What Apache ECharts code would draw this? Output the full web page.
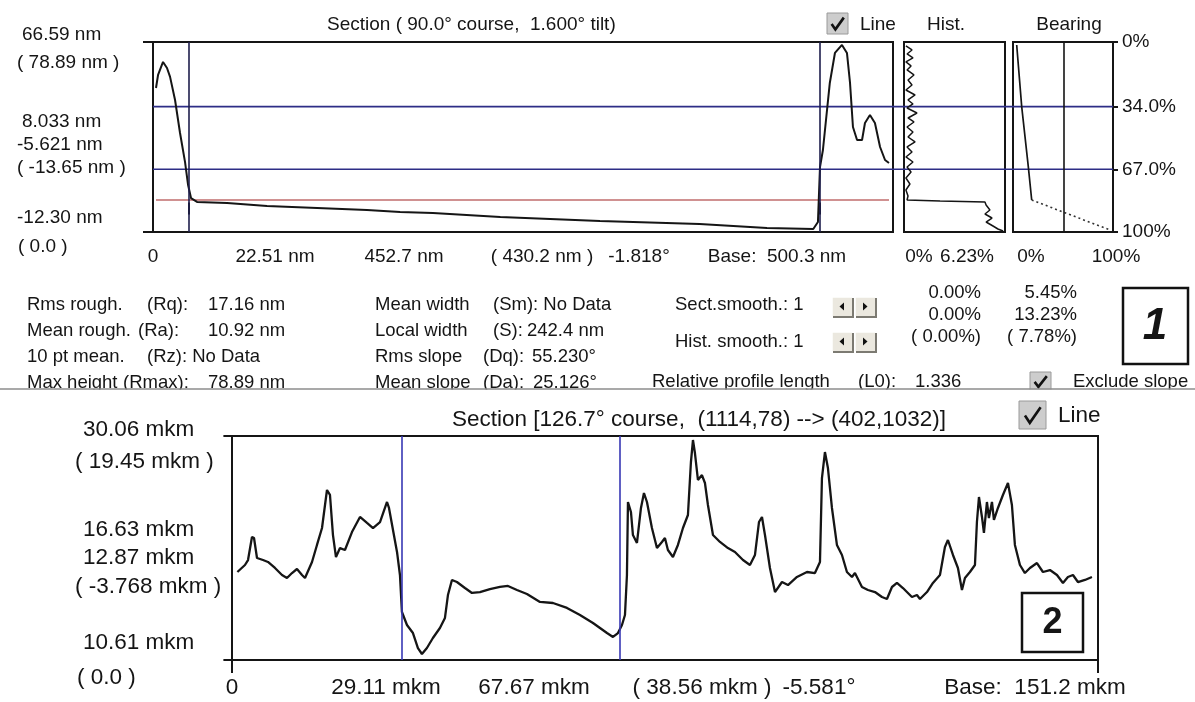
<!DOCTYPE html>
<html>
<head>
<meta charset="utf-8">
<script src="https://cdn.jsdelivr.net/npm/echarts@6/dist/echarts.min.js"></script>
<style>
  html, body { margin: 0; padding: 0; background: #fff; }
  #chart { width: 1195px; height: 702px; }
</style>
</head>
<body>
<div id="chart"></div>
<script>
// ---------- Section 1: profile across the step (nm) ----------
const sec1Dist = [0, 1.4, 4.8, 7.5, 9.6, 13.0, 16.4, 19.8, 21.9, 23.9, 28.0, 48.5, 75.8, 110.0, 144.0,
  166.6, 189.0, 235.0, 303.0, 371.0, 417.0, 448.6, 451.8, 453.2, 455.2, 459.9, 463.4, 468.2, 471.6,
  473.7, 475.7, 478.5, 481.9, 483.9, 487.3, 490.7, 494.2, 497.6, 500.3];
const sec1Height = [47.5, 52.9, 58.3, 55.8, 52.1, 42.5, 28.8, 16.8, 7.2, 1.8, 0.2, -0.3, -1.5, -2.3, -3.2,
  -4.0, -4.4, -6.1, -7.7, -9.0, -10.6, -11.05, -8.15, 14.7, 21.75, 49.58, 62.04, 65.36, 62.04,
  49.58, 31.3, 25.9, 25.9, 32.97, 36.29, 32.97, 23.0, 17.6, 16.35];
const sec1Range = [-12.30, 66.59];      // nm, bottom / top of the height scale
const sec1Span = [0, 500.3];            // nm, profile base
const sec1Cursors = [22.51, 452.7];     // nm
const sec1RefLevel = 1.0;               // nm, reference (red) line

// histogram of heights: share of points (%) vs height (nm)
const histPct = [0.12, 0.50, 0.19, 0.56, 0.12, 0.44, 0.19, 0.62, 0.25, 0.50, 0.12, 0.69, 0.25, 0.56, 0.19,
  0.81, 0.25, 0.62, 0.19, 0.56, 0.25, 0.69, 0.19, 0.50, 0.12, 0.56, 0.19, 0.44, 0.12, 0.37, 0.12, 0.25,
  0.19, 2.25, 5.05, 5.12, 5.36, 5.05, 5.49, 5.12, 5.55, 5.86, 6.18];
const histHeight = [64.94, 63.28, 61.62, 59.96, 58.30, 56.64, 54.98, 52.90, 50.82, 48.75, 46.67, 44.59,
  42.52, 40.86, 39.20, 37.12, 35.04, 33.38, 31.30, 29.23, 27.15, 25.08, 23.00, 20.92, 18.85, 16.77, 14.69,
  12.62, 10.13, 7.63, 5.14, 2.65, 0.99, 0.57, 0.16, -1.09, -3.16, -4.82, -6.49, -8.15, -9.81, -11.05, -11.88];
const histMax = 6.3;

// bearing ratio curve: bearing (%) vs height (nm)
const bearingPct = [3.7, 8.7, 15.3, 18.7];
const bearingHeight = [65.36, 39.73, 14.82, 1.0];
const bearingTailPct = [18.7, 97.0];
const bearingTailHeight = [1.0, -11.47];
const bearingCursor = 51;
const bearingLevels = [34.0, 67.0];
const bearingTicks = [0, 34.0, 67.0, 100];

// ---------- Section 2: profile along the 126.7° course (mkm) ----------
const sec2Dist = [0.0, 1.34, 1.88, 2.58, 2.94, 3.47, 4.53, 5.41, 6.65, 7.89,
  8.77, 9.66, 10.54, 11.43, 11.96, 13.20, 14.08, 14.97, 15.50, 15.85,
  16.38, 16.91, 17.44, 18.15, 19.03, 20.27, 21.69, 22.93, 23.99, 25.23,
  26.47, 26.82, 28.24, 28.76, 29.11, 30.00, 31.06, 31.94, 32.65, 33.53,
  34.59, 35.83, 36.72, 37.25, 37.96, 38.84, 40.26, 41.50, 42.91, 44.68,
  46.45, 47.87, 49.46, 51.23, 53.53, 55.83, 58.31, 60.61, 62.91, 65.39,
  66.45, 67.33, 68.04, 68.57, 68.92, 69.10, 69.63, 69.98, 70.69, 71.40,
  71.93, 72.46, 73.34, 74.23, 75.11, 75.64, 76.17, 77.06, 77.94, 78.83,
  79.71, 80.24, 80.60, 80.95, 81.48, 82.19, 82.72, 83.25, 84.14, 85.38,
  86.79, 88.03, 89.45, 90.68, 91.57, 92.28, 92.81, 93.34, 94.22, 95.11,
  96.35, 97.41, 99.00, 100.77, 102.18, 103.07, 103.42, 103.95, 104.48, 105.19,
  106.07, 106.96, 107.84, 108.73, 109.26, 110.50, 111.56, 112.80, 114.04, 114.92,
  115.81, 116.69, 117.75, 119.34, 120.23, 120.76, 122.00, 123.06, 124.30, 125.18,
  125.71, 126.60, 127.48, 128.19, 128.72, 129.60, 130.49, 130.84, 131.20, 131.73,
  132.08, 132.61, 132.96, 133.50, 133.85, 134.56, 135.44, 136.33, 137.03, 137.56,
  138.45, 139.33, 140.22, 141.46, 142.52, 143.76, 145.00, 146.06, 146.94, 147.83,
  148.71, 149.95, 151.19];
const sec2Height = [18.25, 18.86, 19.29, 21.29, 21.20, 19.47, 19.29, 19.12, 18.60, 17.99,
  17.73, 18.16, 18.51, 17.99, 17.73, 19.12, 20.60, 22.07, 24.07, 25.37,
  24.94, 21.46, 19.55, 20.33, 20.16, 21.72, 23.03, 22.51, 22.07, 22.59,
  24.33, 23.81, 19.99, 17.99, 14.78, 13.65, 12.95, 11.65, 11.13, 11.65,
  12.52, 13.39, 14.26, 16.25, 17.56, 17.38, 16.86, 16.43, 16.51, 16.77,
  16.95, 17.04, 16.69, 16.34, 15.65, 15.56, 15.13, 14.52, 13.82, 12.95,
  12.61, 12.95, 13.65, 14.52, 17.99, 24.33, 23.46, 21.46, 20.77, 23.81,
  25.11, 24.33, 22.07, 20.33, 20.86, 21.20, 20.16, 19.55, 20.60, 22.07,
  23.20, 27.80, 29.71, 28.58, 26.24, 26.67, 25.98, 24.07, 21.46, 20.86,
  20.33, 19.99, 19.29, 18.86, 19.73, 22.59, 23.03, 21.46, 18.60, 16.51,
  17.38, 17.12, 17.82, 18.25, 18.16, 19.12, 26.41, 28.67, 27.28, 23.81,
  20.60, 19.73, 18.25, 17.82, 18.16, 16.95, 16.69, 16.51, 16.08, 15.91,
  16.95, 17.30, 16.86, 16.08, 16.25, 15.91, 16.51, 17.30, 17.99, 20.42,
  21.03, 19.73, 18.60, 16.69, 17.73, 18.25, 18.86, 22.59, 24.76, 23.03,
  21.64, 24.33, 22.94, 24.33, 22.77, 23.81, 24.94, 25.98, 24.07, 20.60,
  18.86, 18.16, 18.60, 19.03, 18.25, 18.42, 17.99, 17.30, 17.82, 17.99,
  17.38, 17.56, 17.82];
const sec2Range = [10.61, 30.06];       // mkm
const sec2Span = [0, 151.2];            // mkm
const sec2Cursors = [29.11, 67.67];     // mkm

// ---------- texts ----------
const sec1Title = 'Section ( 90.0° course,  1.600° tilt)';
const sec1SideLabels = ['66.59 nm', '( 78.89 nm )', '8.033 nm', '-5.621 nm', '( -13.65 nm )', '-12.30 nm', '( 0.0 )'];
const sec1AxisLabels = ['0', '22.51 nm', '452.7 nm', '( 430.2 nm )', '-1.818°', 'Base:  500.3 nm'];
const histAxisLabels = ['0%', '6.23%'];
const bearingAxisLabels = ['0%', '100%'];
const statsLeft = [['Rms rough.', '(Rq):', '17.16 nm'], ['Mean rough.', '(Ra):', '10.92 nm'],
  ['10 pt mean.', '(Rz): No Data', ''], ['Max height', '(Rmax):', '78.89 nm']];
const statsMid = [['Mean width', '(Sm): No Data', ''], ['Local width', '(S):', '242.4 nm'],
  ['Rms slope', '(Dq):', '55.230°'], ['Mean slope', '(Da):', '25.126°']];
const smoothLabels = ['Sect.smooth.: 1', 'Hist. smooth.: 1'];
const profileLength = ['Relative profile length', '(L0):', '1.336'];
const pctColA = ['0.00%', '0.00%', '( 0.00%)'];
const pctColB = ['5.45%', '13.23%', '( 7.78%)'];
const sec2Title = 'Section [126.7° course,  (1114,78) --> (402,1032)]';
const sec2SideLabels = ['30.06 mkm', '( 19.45 mkm )', '16.63 mkm', '12.87 mkm', '( -3.768 mkm )', '10.61 mkm', '( 0.0 )'];
const sec2AxisLabels = ['0', '29.11 mkm', '67.67 mkm', '( 38.56 mkm )', '-5.581°', 'Base:  151.2 mkm'];

// ---------- drawing ----------
const FONT = '"Liberation Sans", Arial, sans-serif';
const INK = '#151515';
const zip = (a, b) => a.map((v, i) => [v, b[i]]);

function txt(x, y, text, size, align, weight) {
  const a = align || 'left';
  return {
    type: 'text', x, y, z: 50, silent: true,
    style: {
      text, fill: INK, font: (weight || '') + ' ' + size + 'px ' + FONT,
      align: a, textAlign: a, verticalAlign: 'middle', textVerticalAlign: 'middle'
    }
  };
}

function checkbox(x, y, w, h) {
  return [
    { type: 'rect', z: 50, silent: true, shape: { x, y, width: w, height: h },
      style: { fill: '#cdcdcd', stroke: '#9a9a9a', lineWidth: 1 } },
    { type: 'polyline', z: 51, silent: true,
      shape: { points: [[x + w * 0.22, y + h * 0.52], [x + w * 0.40, y + h * 0.78], [x + w * 0.80, y + h * 0.22]] },
      style: { stroke: '#111', lineWidth: 2.6, fill: null } }
  ];
}

function spinner(x, y) {
  const out = [];
  const w = 20, h = 19;
  [0, 1].forEach(k => {
    const bx = x + k * (w + 3);
    out.push({ type: 'rect', z: 50, silent: true, shape: { x: bx, y, width: w, height: h },
      style: { fill: '#ebe8df' } });
    out.push({ type: 'polyline', z: 51, silent: true,
      shape: { points: [[bx, y + h], [bx, y], [bx + w, y]] }, style: { stroke: '#fff', lineWidth: 1.5, fill: null } });
    out.push({ type: 'polyline', z: 51, silent: true,
      shape: { points: [[bx + 1, y + h + 1], [bx + w + 1, y + h + 1], [bx + w + 1, y + 1]] },
      style: { stroke: '#7c7a72', lineWidth: 2, fill: null } });
    const cx = bx + w / 2, cy = y + h / 2;
    const tri = k === 0 ? [[cx + 2, cy - 4], [cx + 2, cy + 4], [cx - 2.5, cy]]
                        : [[cx - 2, cy - 4], [cx - 2, cy + 4], [cx + 2.5, cy]];
    out.push({ type: 'polygon', z: 52, silent: true, shape: { points: tri }, style: { fill: '#111' } });
  });
  return out;
}

const graphics = [];

// section 1 headings
graphics.push(txt(327, 25, sec1Title, 19));
graphics.push(...checkbox(827, 13, 21, 21));
graphics.push(txt(860, 25, 'Line', 19));
graphics.push(txt(946, 25, 'Hist.', 19, 'center'));
graphics.push(txt(1069, 25, 'Bearing', 19, 'center'));

// section 1 side and base labels
const sec1SidePos = [[22, 35], [17, 63], [22, 122], [17, 145], [17, 168], [17, 218], [18, 247]];
sec1SideLabels.forEach((s, i) => graphics.push(txt(sec1SidePos[i][0], sec1SidePos[i][1], s, 19)));
const sec1AxisX = [153, 275, 404, 542, 639, 777];
sec1AxisLabels.forEach((s, i) => graphics.push(txt(sec1AxisX[i], 257, s, 19, 'center')));
const histAxisX = [919, 967];
histAxisLabels.forEach((s, i) => graphics.push(txt(histAxisX[i], 257, s, 19, 'center')));
const bearingAxisX = [1031, 1116];
bearingAxisLabels.forEach((s, i) => graphics.push(txt(bearingAxisX[i], 257, s, 19, 'center')));

// roughness statistics
const rowY = [305, 331, 357, 383];
const leftParenX = [147, 138, 147, 123];
statsLeft.forEach((r, i) => {
  graphics.push(txt(27, rowY[i], r[0], 18.5));
  graphics.push(txt(leftParenX[i], rowY[i], r[1], 18.5));
  if (r[2]) graphics.push(txt(208, rowY[i], r[2], 18.5));
});
const midParenX = [493, 493, 483, 483];
const midValX = [0, 527, 532, 533];
statsMid.forEach((r, i) => {
  graphics.push(txt(375, rowY[i], r[0], 18.5));
  graphics.push(txt(midParenX[i], rowY[i], r[1], 18.5));
  if (r[2]) graphics.push(txt(midValX[i], rowY[i], r[2], 18.5));
});
graphics.push(txt(675, 305, smoothLabels[0], 18.5));
graphics.push(txt(675, 342, smoothLabels[1], 18.5));
graphics.push(...spinner(832, 297));
graphics.push(...spinner(832, 332));
graphics.push(txt(652, 382, profileLength[0], 18.5));
graphics.push(txt(858, 382, profileLength[1], 18.5));
graphics.push(txt(915, 382, profileLength[2], 18.5));
const pctRowY = [293, 315, 337];
pctColA.forEach((s, i) => graphics.push(txt(981, pctRowY[i], s, 18.5, 'right')));
pctColB.forEach((s, i) => graphics.push(txt(1077, pctRowY[i], s, 18.5, 'right')));
graphics.push(...checkbox(1030, 372, 21, 19));
graphics.push(txt(1073, 382, 'Exclude slope', 18.5));

// panel number 1
graphics.push({ type: 'rect', z: 50, silent: true, shape: { x: 1123, y: 288, width: 65, height: 76 },
  style: { fill: '#fff', stroke: '#111', lineWidth: 2.5 } });
graphics.push(txt(1155, 327, '1', 44, 'center', 'italic bold'));

// edge of the lower panel
graphics.push({ type: 'rect', z: 60, silent: true, shape: { x: 0, y: 389.5, width: 1195, height: 9 },
  style: { fill: '#fff' } });
graphics.push({ type: 'line', z: 61, silent: true, shape: { x1: 0, y1: 389, x2: 1195, y2: 389 },
  style: { stroke: '#8c8c8c', lineWidth: 1.5 } });

// section 2 headings and labels
graphics.push(txt(452, 420, sec2Title, 22.5));
graphics.push(...checkbox(1019, 401, 27, 28));
graphics.push(txt(1058, 416, 'Line', 22.5));
const sec2SidePos = [[83, 430], [75, 462], [83, 530], [83, 558], [75, 587], [83, 643], [77, 678]];
sec2SideLabels.forEach((s, i) => graphics.push(txt(sec2SidePos[i][0], sec2SidePos[i][1], s, 22.5)));
const sec2AxisX = [232, 386, 534, 702, 819, 1035];
sec2AxisLabels.forEach((s, i) => graphics.push(txt(sec2AxisX[i], 688, s, 22.5, 'center')));

// panel number 2
graphics.push({ type: 'rect', z: 50, silent: true, shape: { x: 1022, y: 593, width: 61, height: 59 },
  style: { fill: '#fff', stroke: '#111', lineWidth: 2.5 } });
graphics.push(txt(1052.5, 623, '2', 36, 'center', 'bold'));

// ---------- axes ----------
const tickStyle = { color: INK, width: 2 };
function frameAxis(extra) {
  return Object.assign({
    type: 'value', axisLine: { show: false }, splitLine: { show: false },
    axisLabel: { show: false }, axisTick: { show: false }
  }, extra);
}
const sec1XMin = sec1Span[0] - 2.05, sec1XMax = sec1Span[1] + 2.73;
const sec2XMin = sec2Span[0] - 0.955, sec2XMax = sec2Span[1] + 1.06;

const xAxes = [
  frameAxis({ gridIndex: 0, min: sec1XMin, max: sec1XMax,
    axisTick: { show: true, customValues: [sec1XMin, ...sec1Cursors, sec1XMax], length: 12, lineStyle: tickStyle } }),
  frameAxis({ gridIndex: 1, min: 0, max: histMax,
    axisTick: { show: true, customValues: [0], length: 11, lineStyle: tickStyle } }),
  frameAxis({ gridIndex: 2, min: 0, max: 100,
    axisTick: { show: true, customValues: [0, 100], length: 12, lineStyle: tickStyle } }),
  frameAxis({ gridIndex: 3, min: 0, max: 1, show: false }),
  frameAxis({ gridIndex: 4, min: sec2XMin, max: sec2XMax,
    axisTick: { show: true, customValues: [sec2XMin, sec2XMax], length: 13, lineStyle: tickStyle } })
];
const yAxes = [
  frameAxis({ gridIndex: 0, min: sec1Range[0], max: sec1Range[1],
    axisTick: { show: true, customValues: [sec1Range[0], sec1Range[1]], length: 13, lineStyle: tickStyle } }),
  frameAxis({ gridIndex: 1, min: sec1Range[0], max: sec1Range[1], show: false }),
  frameAxis({ gridIndex: 2, min: sec1Range[0], max: sec1Range[1], show: false }),
  frameAxis({ gridIndex: 2, min: 0, max: 100, inverse: true, position: 'right',
    axisTick: { show: true, customValues: bearingTicks, length: 5, lineStyle: tickStyle },
    axisLabel: { show: true, customValues: bearingTicks, margin: 9, color: INK, fontSize: 19, fontFamily: FONT,
      formatter: v => (v === 0 || v === 100) ? v + '%' : v.toFixed(1) + '%' } }),
  frameAxis({ gridIndex: 3, min: sec1Range[0], max: sec1Range[1], show: false }),
  frameAxis({ gridIndex: 4, min: sec2Range[0], max: sec2Range[1],
    axisTick: { show: true, customValues: [sec2Range[0], sec2Range[1]], length: 14, lineStyle: tickStyle } })
];

const frame = { show: true, borderColor: INK, borderWidth: 2, backgroundColor: 'transparent' };
const lineBase = { type: 'line', symbol: 'none', showSymbol: false, silent: true, animation: false };
const cursorMark = (vals, color) => ({
  symbol: 'none', silent: true, label: { show: false }, animation: false,
  lineStyle: { color, width: 1.6, type: 'solid' },
  emphasis: { disabled: true },
  data: vals.map(v => ({ xAxis: v }))
});
const levelHeight = p => sec1Range[1] - p / 100 * (sec1Range[1] - sec1Range[0]);

const series = [
  Object.assign({}, lineBase, { name: 'profile 1', xAxisIndex: 0, yAxisIndex: 0, z: 3,
    data: zip(sec1Dist, sec1Height), lineStyle: { color: INK, width: 2 },
    markLine: cursorMark(sec1Cursors, '#1f1f4d') }),
  Object.assign({}, lineBase, { name: 'reference', xAxisIndex: 0, yAxisIndex: 0, z: 2,
    data: [[sec1Span[0], sec1RefLevel], [sec1Span[1], sec1RefLevel]], lineStyle: { color: '#c06c6c', width: 1.6 } }),
  ...bearingLevels.map(p => Object.assign({}, lineBase, { name: 'level ' + p, xAxisIndex: 3, yAxisIndex: 4, z: 2,
    data: [[0, levelHeight(p)], [1, levelHeight(p)]], lineStyle: { color: '#2d2d86', width: 1.6 } })),
  Object.assign({}, lineBase, { name: 'histogram', xAxisIndex: 1, yAxisIndex: 1, z: 3,
    data: zip(histPct, histHeight), lineStyle: { color: INK, width: 1.5 } }),
  Object.assign({}, lineBase, { name: 'bearing', xAxisIndex: 2, yAxisIndex: 2, z: 3,
    data: zip(bearingPct, bearingHeight), lineStyle: { color: INK, width: 1.7 },
    markLine: cursorMark([bearingCursor], INK) }),
  Object.assign({}, lineBase, { name: 'bearing tail', xAxisIndex: 2, yAxisIndex: 2, z: 3,
    data: zip(bearingTailPct, bearingTailHeight), lineStyle: { color: '#333', width: 1.6, type: [2, 3] } }),
  Object.assign({}, lineBase, { name: 'profile 2', xAxisIndex: 4, yAxisIndex: 5, z: 3,
    data: zip(sec2Dist, sec2Height), lineStyle: { color: INK, width: 2.3 },
    markLine: cursorMark(sec2Cursors, '#3838b4') })
];

const chart = echarts.init(document.getElementById('chart'), null, { renderer: 'canvas' });
chart.setOption({
  animation: false,
  backgroundColor: '#ffffff',
  grid: [
    Object.assign({ left: 153, top: 42, width: 740, height: 190 }, frame),
    Object.assign({ left: 904, top: 42, width: 101, height: 190 }, frame),
    Object.assign({ left: 1013, top: 42, width: 100, height: 190 }, frame),
    { left: 153, top: 42, width: 960, height: 190, show: false },
    Object.assign({ left: 232, top: 436, width: 866, height: 224 }, frame)
  ],
  xAxis: xAxes,
  yAxis: yAxes,
  series,
  graphic: { elements: graphics }
});
</script>
</body>
</html>
